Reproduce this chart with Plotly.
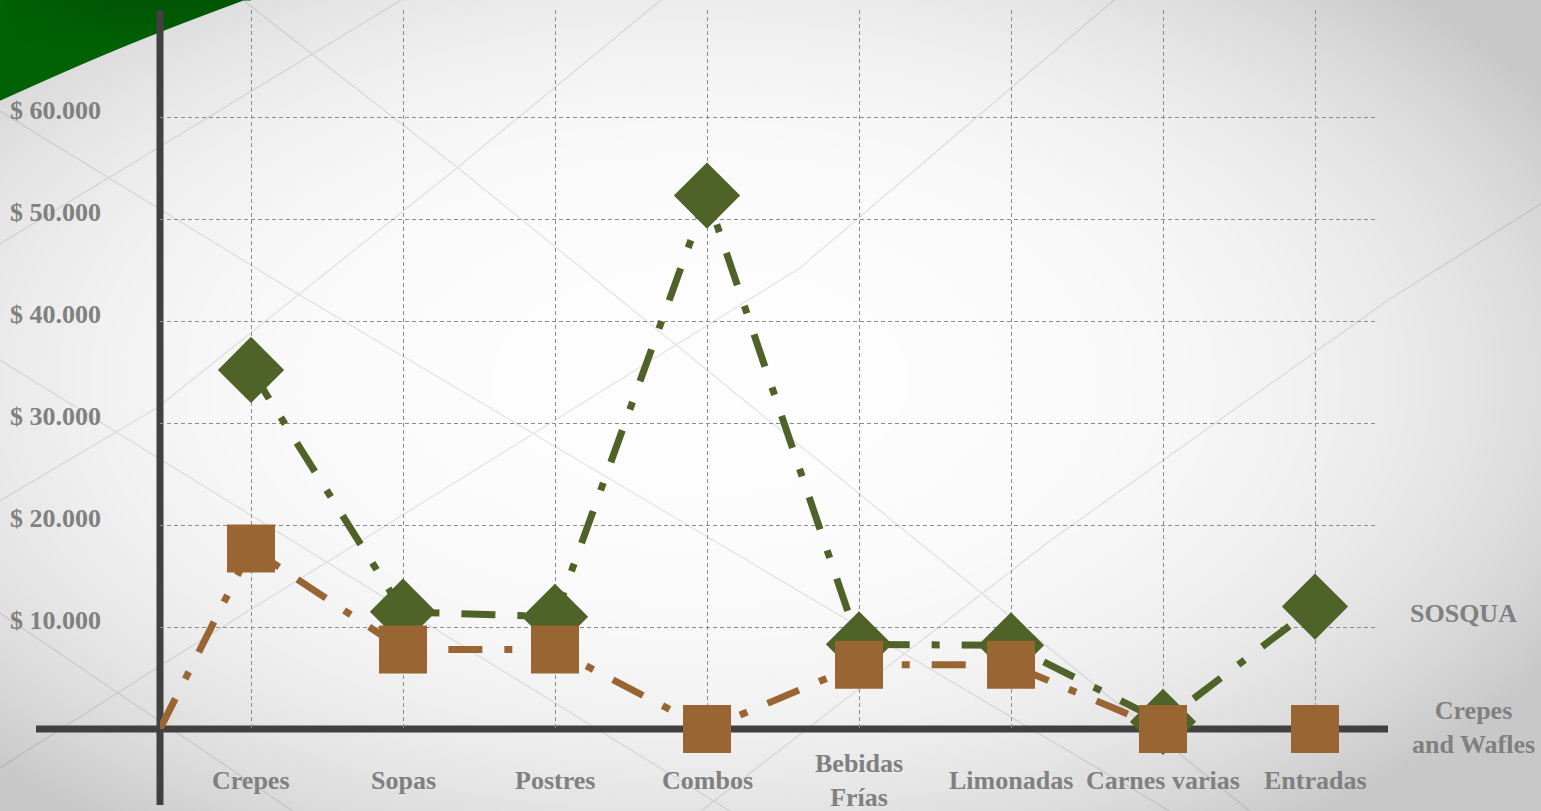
import base64
import struct
import zlib

import numpy as np
import plotly.graph_objects as go

# ---------------- data ----------------
categories = ["Crepes", "Sopas", "Postres", "Combos", "Bebidas<br>Frías",
              "Limonadas", "Carnes varias", "Entradas"]
sosqua = [35200, 11500, 11000, 52300, 8300, 8200, 700, 12000]
crepes_wafles = [17700, 7800, 7800, 0, 6300, 6300, 0, 0]
series_names = ["SOSQUA", "Crepes<br>and Wafles"]
y_tick_values = [10000, 20000, 30000, 40000, 50000, 60000]
y_tick_labels = ["$ 10.000", "$ 20.000", "$ 30.000", "$ 40.000", "$ 50.000", "$ 60.000"]

# ---------------- layout geometry ----------------
W, H = 1541, 811
L, R, T, B = 160, 163, 10, 82
PW, PH = W - L - R, H - T - B
GREEN = "#4F6228"
BROWN = "#996633"
AXIS = "#404040"
TEXT = "#808080"
FONT = "Liberation Serif, Times New Roman, serif"

X_MIN, X_MAX = -91 / 152, 7 + 63 / 152
Y_MAX = 60000 * PH / 612.0


# ---------------- background image (gradient, faint lines, green swoosh) -------------
def make_background():
    yy, xx = np.mgrid[0:H, 0:W].astype(np.float32)
    d = np.sqrt(((xx - 700) / 1000) ** 2 + ((yy - 380) / 560) ** 2)
    v = np.clip(253 - 55 * d ** 3, 200, 253)
    # faint diagonal lattice lines (pixel space of the page)
    polys = [
        [(0, 111), (300, 295), (1170, 811)],
        [(0, 243), (400, 0)],
        [(0, 360), (730, 811)],
        [(0, 500), (157, 407), (457, 167), (660, 0)],
        [(0, 613), (293, 811)],
        [(0, 767), (157, 667), (800, 267), (1113, 0)],
        [(243, 0), (457, 167), (723, 383), (1250, 811)],
        [(1541, 203), (1387, 300), (1050, 540), (700, 811)],
    ]
    alpha = np.zeros_like(v)
    for pts in polys:
        for (x0, y0), (x1, y1) in zip(pts[:-1], pts[1:]):
            dx, dy = x1 - x0, y1 - y0
            n2 = dx * dx + dy * dy
            tt = np.clip(((xx - x0) * dx + (yy - y0) * dy) / n2, 0, 1)
            dist = np.hypot(xx - (x0 + tt * dx), yy - (y0 + tt * dy))
            alpha = np.maximum(alpha, np.clip(1.2 - dist, 0, 1))
    v = v - alpha * 0.09 * v
    r = v.copy(); g = v.copy(); b = v.copy()
    # green swoosh in the top-left corner
    t = np.clip(xx / 243.0, 0, 1)
    yb = 100 - 100 * t - 3 * np.sin(np.pi * t)
    a = np.clip(0.5 + (yb - yy) * 0.93, 0, 1)
    a[xx > 250] = 0
    gg = 98 - 14 * np.clip(1 - yy / 50, 0, 1) * np.clip(xx / 120, 0, 1)
    r = r * (1 - a)
    g = g * (1 - a) + gg * a
    b = b * (1 - a) + 4 * a
    img = np.stack([r, g, b], axis=-1).round().clip(0, 255).astype(np.uint8)
    rows = img.reshape(H, W * 3).astype(np.int16)
    sub = rows.copy()
    sub[:, 3:] = (rows[:, 3:] - rows[:, :-3]) % 256
    sub = sub.astype(np.uint8)
    raw = b"".join(b"\x01" + sub[i].tobytes() for i in range(H))

    def chunk(tag, data):
        return (struct.pack(">I", len(data)) + tag + data +
                struct.pack(">I", zlib.crc32(tag + data) & 0xFFFFFFFF))

    png = (b"\x89PNG\r\n\x1a\n" +
           chunk(b"IHDR", struct.pack(">IIBBBBB", W, H, 8, 2, 0, 0, 0)) +
           chunk(b"IDAT", zlib.compress(raw, 9)) + chunk(b"IEND", b""))
    return "data:image/png;base64," + base64.b64encode(png).decode()


idx = list(range(len(categories)))
DASH = "34px,22px,8px,22px"

fig = go.Figure()
# SOSQUA: line then diamonds
fig.add_trace(go.Scatter(
    x=idx, y=sosqua, mode="lines+markers", name="SOSQUA", cliponaxis=False,
    line=dict(color=GREEN, width=7, dash=DASH),
    marker=dict(symbol="diamond", size=51, color=GREEN, opacity=1, line=dict(width=0)),
))
# Crepes and Wafles: line starts at the axis origin and stops at the 7th category
fig.add_trace(go.Scatter(
    x=[X_MIN] + idx[:-1], y=[0] + crepes_wafles[:-1], mode="lines",
    name="Crepes and Wafles", cliponaxis=False,
    line=dict(color=BROWN, width=7, dash=DASH),
))
fig.add_trace(go.Scatter(
    x=idx, y=crepes_wafles, mode="markers", name="Crepes and Wafles",
    cliponaxis=False,
    marker=dict(symbol="square", size=48, color=BROWN, opacity=1, line=dict(width=0)),
))

shapes = [
    dict(type="line", xref="paper", yref="paper", x0=0, x1=0,
         y0=-(805 - 729) / PH, y1=1.0, line=dict(color=AXIS, width=7), layer="below"),
    dict(type="line", xref="paper", yref="paper", x0=(36 - L) / PW, x1=(1388 - L) / PW,
         y0=0, y1=0, line=dict(color=AXIS, width=7), layer="below"),
]

tfont = dict(family=FONT, size=26, color=TEXT, weight="bold")
annotations = []
for v, t in zip(y_tick_values, y_tick_labels):
    annotations.append(dict(x=0, xref="paper", y=v, yref="y", text=t, showarrow=False,
                            xanchor="right", yanchor="middle", xshift=-57, yshift=7,
                            font=tfont))
for i, c in zip(idx, categories):
    annotations.append(dict(x=i, xref="x", y=0, yref="y", text=c, showarrow=False,
                            xanchor="center", yanchor="middle", yshift=-51,
                            font=tfont))
annotations.append(dict(x=1, xref="paper", y=sosqua[-1], yref="y", text=series_names[0],
                        showarrow=False, xanchor="center", yanchor="middle",
                        xshift=85, yshift=-7, font=tfont))
annotations.append(dict(x=1, xref="paper", y=crepes_wafles[-1], yref="y",
                        text=series_names[1], showarrow=False, xanchor="center",
                        yanchor="middle", xshift=95, yshift=2, font=tfont))

fig.update_layout(
    width=W, height=H,
    margin=dict(l=L, r=R, t=T, b=B, pad=0),
    paper_bgcolor="white", plot_bgcolor="rgba(0,0,0,0)",
    showlegend=False,
    xaxis=dict(range=[X_MIN, X_MAX], tickvals=idx, showticklabels=False, ticks="",
               showgrid=True, gridcolor="#8C8C8C", griddash="4px,3px", gridwidth=1,
               zeroline=False, showline=False, fixedrange=True),
    yaxis=dict(range=[0, Y_MAX], tickvals=y_tick_values, showticklabels=False, ticks="",
               showgrid=True, gridcolor="#8C8C8C", griddash="4px,3px", gridwidth=1,
               zeroline=False, showline=False, fixedrange=True),
    shapes=shapes,
    annotations=annotations,
    images=[dict(source=make_background(), xref="paper", yref="paper",
                 x=-L / PW, y=1 + T / PH, sizex=W / PW, sizey=H / PH,
                 xanchor="left", yanchor="top", sizing="stretch", layer="below")],
)

fig.write_html("out.html", config=dict(displayModeBar=False))
